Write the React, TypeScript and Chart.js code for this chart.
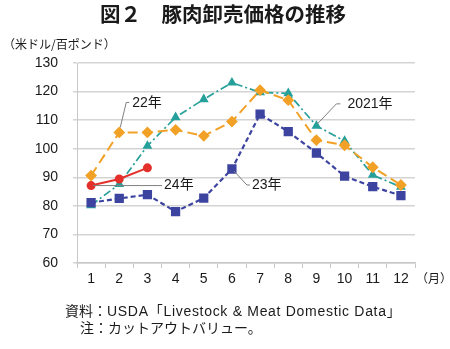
import React, { useEffect, useRef } from "react";
import { Chart, registerables } from "chart.js";

Chart.register(...registerables);

const months = ["1", "2", "3", "4", "5", "6", "7", "8", "9", "10", "11", "12"];
const yearLabels = ["2021年", "22年", "23年", "24年"];
const values2021 = [80.2, 87.6, 101, 111, 117.3, 123.1, 119.7, 119.4, 108, 102.7, 90.8, 86.6];
const values2022 = [90.6, 105.7, 105.7, 106.6, 104.5, 109.5, 120.5, 117, 103, 101.2, 93.5, 87.3];
const values2023 = [81.1, 82.6, 83.9, 78, 82.7, 92.9, 112.1, 106, 98.5, 90.4, 86.7, 83.6];
const values2024 = [87.1, 89.4, 93.3];
const yTicks = [60, 70, 80, 90, 100, 110, 120, 130];

const titleText = "図２　豚肉卸売価格の推移";
const unitText = "（米ドル/百ポンド）";
const monthUnit = "（月）";
const sourcePrefix = "資料：";
const sourceBody = "USDA「Livestock & Meat Domestic Data」";
const noteText = "注：カットアウトバリュー。";

const FONT = "'Liberation Sans', 'Noto Sans CJK JP', sans-serif";
const JFONT = "'Noto Sans CJK JP', 'Liberation Sans', sans-serif";

const decorPlugin = {
  id: "decor",
  afterDraw(chart: any) {
    const ctx = chart.ctx;
    ctx.save();
    ctx.fillStyle = "#1a1a1a";
    ctx.textBaseline = "middle";
    // title
    ctx.font = `bold 20.5px ${JFONT}`;
    ctx.textAlign = "center";
    ctx.fillText(titleText, 223, 14);
    // unit
    ctx.font = `12px ${JFONT}`;
    ctx.textAlign = "left";
    ctx.fillText(unitText, 3, 44);
    // month unit
    ctx.font = `12px ${JFONT}`;
    ctx.fillText(monthUnit, 416, 278);
    // footer
    ctx.font = `14px ${FONT}`;
    ctx.fillText(sourcePrefix, 65, 312);
    const w = ctx.measureText(sourcePrefix).width;
    (ctx as any).letterSpacing = "0.7px";
    ctx.fillText(sourceBody, 65 + w, 312);
    (ctx as any).letterSpacing = "0px";
    ctx.fillText(noteText, 80, 329);
    ctx.restore();
  },
  afterDatasetsDraw(chart: any) {
    const ctx = chart.ctx;
    const pt = (ds: number, i: number) => chart.getDatasetMeta(ds).data[i];
    ctx.save();
    ctx.strokeStyle = "#7f7f7f";
    ctx.lineWidth = 1;
    ctx.fillStyle = "#1a1a1a";
    ctx.font = `14px ${FONT}`;
    ctx.textBaseline = "middle";
    ctx.textAlign = "left";
    // 22年 (dataset 1, month 2)
    let p = pt(1, 1);
    ctx.beginPath();
    ctx.moveTo(p.x + 1, p.y - 5);
    ctx.lineTo(p.x + 7, p.y - 30);
    ctx.lineTo(p.x + 10, p.y - 30);
    ctx.stroke();
    ctx.fillText(yearLabels[1], p.x + 13, p.y - 29);
    // 24年 (dataset 3, month 1)
    p = pt(3, 0);
    ctx.beginPath();
    ctx.moveTo(p.x + 2, p.y);
    ctx.lineTo(p.x + 71, p.y);
    ctx.stroke();
    ctx.fillText(yearLabels[3], p.x + 73, p.y);
    // 23年 (dataset 2, month 6)
    p = pt(2, 5);
    ctx.beginPath();
    ctx.moveTo(p.x + 2, p.y + 2);
    ctx.lineTo(p.x + 15, p.y + 16);
    ctx.lineTo(p.x + 18, p.y + 16);
    ctx.stroke();
    ctx.fillText(yearLabels[2], p.x + 20, p.y + 16);
    // 2021年 (dataset 0, month 9)
    p = pt(0, 8);
    ctx.beginPath();
    ctx.moveTo(p.x + 1, p.y - 2);
    ctx.lineTo(p.x + 20, p.y - 22);
    ctx.lineTo(p.x + 24, p.y - 22);
    ctx.stroke();
    ctx.fillText(yearLabels[0], p.x + 31, p.y - 22);
    ctx.restore();
  },
};

export default function App() {
  const ref = useRef<HTMLCanvasElement>(null);
  useEffect(() => {
    document.body.style.margin = "0";
    const chart = new Chart(ref.current as HTMLCanvasElement, {
      type: "line",
      data: {
        labels: months,
        datasets: [
          {
            label: yearLabels[0],
            data: values2021,
            borderColor: "#26a09a",
            backgroundColor: "#26a09a",
            borderWidth: 1.7,
            borderDash: [8, 3, 2, 3],
            pointStyle: "triangle",
            pointRadius: 4,
            order: 3,
          },
          {
            label: yearLabels[1],
            data: values2022,
            borderColor: "#f2a127",
            backgroundColor: "#f2a127",
            borderWidth: 2,
            borderDash: [10, 5],
            pointStyle: "rectRot",
            pointRadius: 4.5,
            order: 2,
          },
          {
            label: yearLabels[2],
            data: values2023,
            borderColor: "#3c44a0",
            backgroundColor: "#3c44a0",
            borderWidth: 2.2,
            borderDash: [5, 3],
            pointStyle: "rect",
            pointRadius: 5,
            order: 1,
          },
          {
            label: yearLabels[3],
            data: values2024,
            borderColor: "#e3302b",
            backgroundColor: "#e3302b",
            borderWidth: 2,
            pointStyle: "circle",
            pointRadius: 3.5,
            order: 0,
          },
        ],
      },
      options: {
        responsive: false,
        animation: false,
        layout: { padding: { top: 63, left: 0, right: 35, bottom: 0 } },
        plugins: {
          legend: { display: false },
          tooltip: { enabled: false },
        },
        scales: {
          x: {
            offset: true,
            grid: {
              offset: true,
              drawOnChartArea: false,
              drawTicks: true,
              tickLength: 5,
              color: "#c8c8c8",
              lineWidth: 1,
            },
            border: { color: "#c8c8c8", width: 1.5 },
            ticks: {
              color: "#1a1a1a",
              font: { family: FONT, size: 14 },
              padding: 3,
              maxRotation: 0,
            },
            afterFit: (s: any) => {
              s.height = 86;
            },
          },
          y: {
            min: 60,
            max: 130,
            afterBuildTicks: (s: any) => {
              s.ticks = yTicks.map((v) => ({ value: v }));
            },
            grid: {
              color: "#d4d4d4",
              lineWidth: 1.5,
              drawTicks: true,
              tickLength: 4,
            },
            border: { color: "#c8c8c8", width: 1 },
            ticks: {
              color: "#1a1a1a",
              font: { family: FONT, size: 14 },
              padding: 15,
            },
            afterFit: (s: any) => {
              s.width = 77;
            },
          },
        },
      },
      plugins: [decorPlugin],
    });
    return () => chart.destroy();
  }, []);
  return (
    <div style={{ position: "absolute", left: 0, top: 0, width: 450, height: 349 }}>
      <canvas ref={ref} width={450} height={349} />
    </div>
  );
}
